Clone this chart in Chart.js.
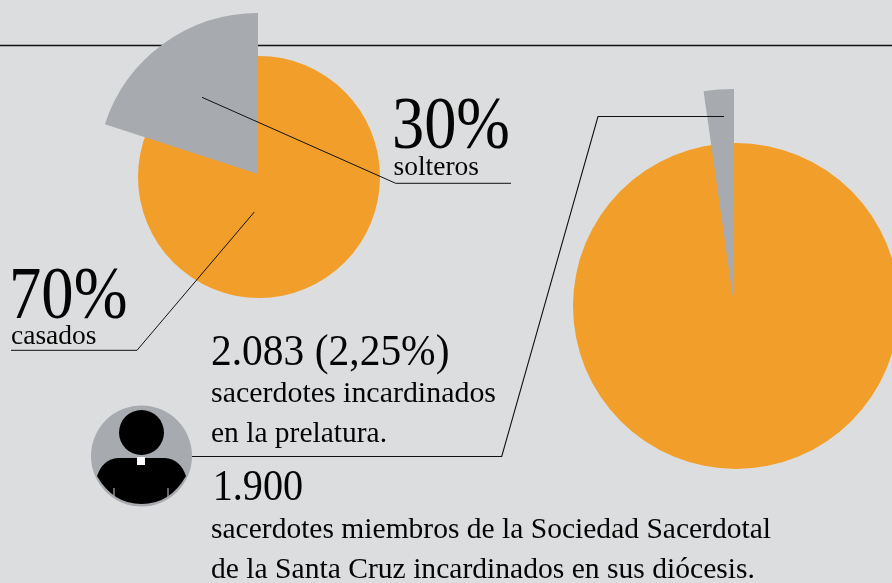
<!DOCTYPE html>
<html lang="es">
<head>
<meta charset="utf-8">
<title>Sacerdotes</title>
<script src="https://cdn.jsdelivr.net/npm/chart.js@4"></script>
<style>
  html, body { margin: 0; padding: 0; background: #dcddde; }
  #page { position: relative; width: 892px; height: 583px; overflow: hidden; background: #dcddde; }
  canvas, svg { position: absolute; }
  #rule, #notes { left: 0; top: 0; }
  text { font-family: "Liberation Serif", serif; fill: #050505; }
</style>
</head>
<body>
<div id="page">
  <svg id="rule" width="892" height="583">
    <line x1="0" y1="45.5" x2="892" y2="45.5" stroke="#111" stroke-width="1.3"/>
  </svg>

  <canvas id="civil-base"></canvas>
  <canvas id="civil-slice"></canvas>
  <canvas id="prelatura-base"></canvas>
  <canvas id="prelatura-slice"></canvas>

  <svg id="notes" width="892" height="583">
    <g fill="none" stroke="#111">
      <polyline points="202,97.3 395.7,183.3 511,183.3" stroke-width="1"/>
      <polyline points="254.3,212 137,350.3 11,350.3" stroke-width="1"/>
      <polyline points="192,456.5 501.7,456.5 598,116.5 724,116.5" stroke-width="1.1"/>
    </g>

    <!-- priest icon -->
    <circle cx="141.5" cy="456" r="50.5" fill="#a7aaae"/>
    <circle cx="141.5" cy="432.5" r="22.5" fill="#000"/>
    <path d="M118,458 L165,458 Q180,459 186,476 Q170,504 141.5,504 Q113,504 97,476 Q103,459 118,458 Z" fill="#000"/>
    <rect x="137" y="457" width="8" height="8" fill="#fff"/>
    <line x1="114" y1="488" x2="114" y2="498" stroke="#a7aaae" stroke-width="1.2"/>
    <line x1="168" y1="488" x2="168" y2="498" stroke="#a7aaae" stroke-width="1.2"/>

    <text x="392" y="148" font-size="74" textLength="118" lengthAdjust="spacingAndGlyphs">30%</text>
    <text x="393.5" y="175" font-size="27" textLength="85.5" lengthAdjust="spacingAndGlyphs">solteros</text>
    <text x="9" y="318" font-size="74" textLength="118.5" lengthAdjust="spacingAndGlyphs">70%</text>
    <text x="11" y="344" font-size="27" textLength="85.5" lengthAdjust="spacingAndGlyphs">casados</text>
    <text x="211" y="365" font-size="44" textLength="238.5" lengthAdjust="spacingAndGlyphs">2.083 (2,25%)</text>
    <text x="211" y="401.7" font-size="29" textLength="285" lengthAdjust="spacingAndGlyphs">sacerdotes incardinados</text>
    <text x="211" y="441.7" font-size="29" textLength="176" lengthAdjust="spacingAndGlyphs">en la prelatura.</text>
    <text x="212.7" y="500" font-size="44" textLength="90.5" lengthAdjust="spacingAndGlyphs">1.900</text>
    <text x="211" y="538" font-size="29" textLength="560" lengthAdjust="spacingAndGlyphs">sacerdotes miembros de la Sociedad Sacerdotal</text>
    <text x="211" y="578" font-size="29" textLength="544" lengthAdjust="spacingAndGlyphs">de la Santa Cruz incardinados en sus diócesis.</text>
  </svg>
</div>

<script>
const civilLabels = ["casados", "solteros"];
// the grey slice is drawn about 72 degrees wide, so 20 here even though it is captioned 30%
const civilValues = [80, 20];
const civilTotal = [100];

const prelaturaLabels = ["otros", "incardinados en la prelatura"];
const prelaturaValues = [97.75, 2.25];
const prelaturaTotal = [100];

const ORANGE = "#f29e2a";
const GREY = "#a7aaae";

// cx, cy, r: where the pie sits on the page. The slices are a bit off centre
// from the discs in the original, that's why each pie is two charts on top of each other
const buildPie = (id, labels, values, colors, cx, cy, r) => {
  const canvas = document.getElementById(id);
  canvas.style.left = cx - r + "px";
  canvas.style.top = cy - r + "px";
  canvas.width = r * 2;
  canvas.height = r * 2;

  return new Chart(canvas, {
    type: "pie",
    data: {
      labels: labels,
      datasets: [
        {
          data: values,
          backgroundColor: colors,
          borderWidth: 0,
        },
      ],
    },
    options: {
      responsive: false,
      animation: false,
      events: [],
      plugins: {
        legend: { display: false },
        tooltip: { enabled: false },
      },
    },
  });
};

buildPie("civil-base", ["total"], civilTotal, [ORANGE], 259, 177, 121);
buildPie("civil-slice", civilLabels, civilValues, ["transparent", GREY], 258, 174, 161);
buildPie("prelatura-base", ["total"], prelaturaTotal, [ORANGE], 736, 306, 163);
buildPie("prelatura-slice", prelaturaLabels, prelaturaValues, ["transparent", GREY], 734, 305, 216);
</script>
</body>
</html>
